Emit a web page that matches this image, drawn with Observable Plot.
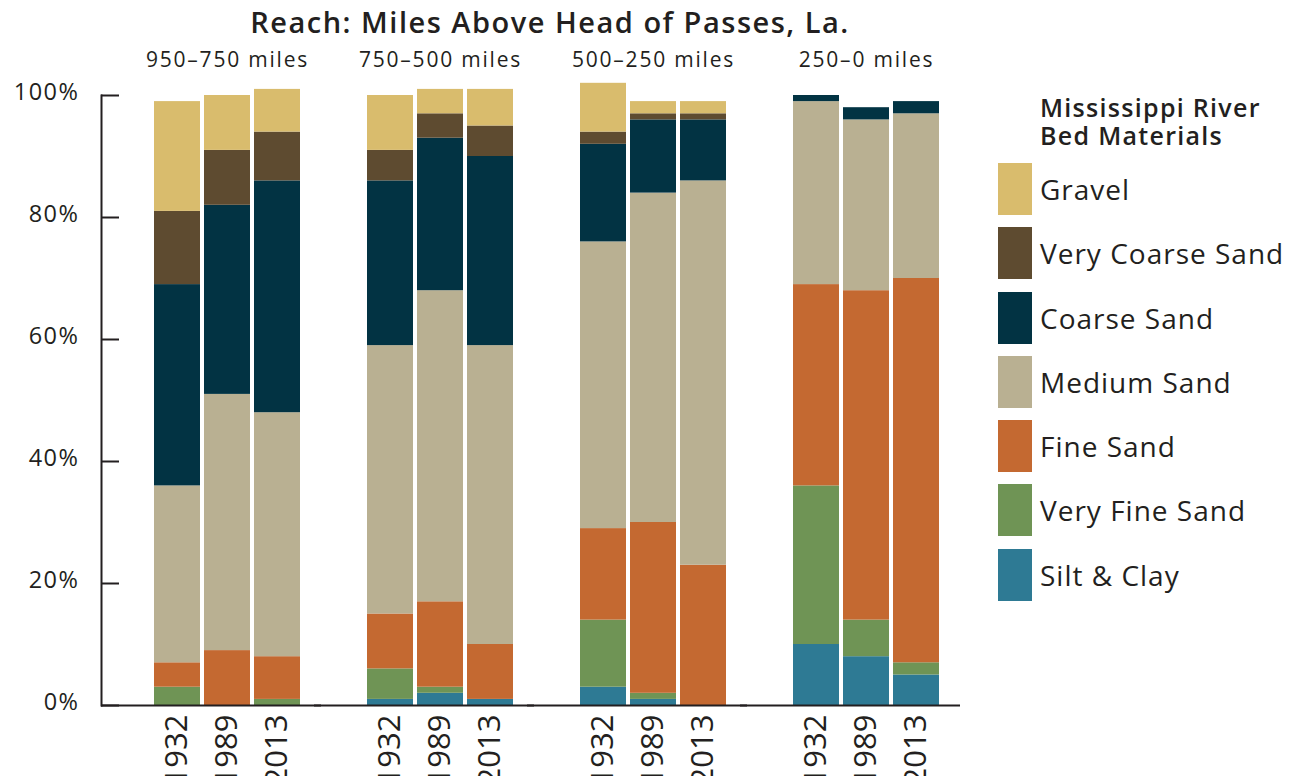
<!DOCTYPE html>
<html>
<head>
<meta charset="utf-8">
<script src="https://cdn.jsdelivr.net/npm/d3@7"></script>
<script src="https://cdn.jsdelivr.net/npm/@observablehq/plot@0.6"></script>
<style>
  html, body { margin: 0; padding: 0; background: #fff; }
  body { font-family: "Open Sans", "Noto Sans", sans-serif; color: #231f20; }
  #wrap { position: relative; width: 1304px; height: 776px; overflow: hidden; }
  #title { position: absolute; left: 0; top: 4px; width: 1100px; text-align: center; font-size: 29px; font-weight: 600; line-height: 36px; letter-spacing: 1.5px; }
  #chart { position: absolute; left: 0; top: 40px; }
  #legend { position: absolute; left: 998px; top: 93px; }
  #legend .lt { margin-left: 42px; font-size: 25px; font-weight: 600; line-height: 28px; margin-bottom: 7.85px; letter-spacing: 1.3px; white-space: nowrap; }
  #legend .row { display: flex; align-items: center; height: 64.3px; }
  #legend .sw { width: 34px; height: 52px; margin-right: 8px; flex: none; }
  #legend .lb { font-size: 28px; letter-spacing: 1px; white-space: nowrap; }
  #chart svg g[aria-label="text"] text { letter-spacing: 1.8px; }
  #chart svg g[aria-label="y-axis tick label"] text { letter-spacing: 1.5px; }
</style>
</head>
<body>
<div id="wrap">
  <div id="title">Reach: Miles Above Head of Passes, La.</div>
  <div id="chart"></div>
  <div id="legend"></div>
</div>
<script>
// Reaches (groups) and survey years
const reaches = ["950–750 miles", "750–500 miles", "500–250 miles", "250–0 miles"];
const years = ["1932", "1989", "2013"];
// Materials, stacked bottom to top
const materials = ["Silt & Clay", "Very Fine Sand", "Fine Sand", "Medium Sand", "Coarse Sand", "Very Coarse Sand", "Gravel"];
const materialColors = ["#2e7a94", "#6f9455", "#c46931", "#b9b092", "#023343", "#5e4b30", "#d9bc6d"];
// Percent values, order: reach1(1932,1989,2013), reach2(...), reach3(...), reach4(...)
const siltClay     = [0, 0, 0,   1, 2, 1,   3, 1, 0,   10, 8, 5];
const veryFineSand = [3, 0, 1,   5, 1, 0,   11, 1, 0,  26, 6, 2];
const fineSand     = [4, 9, 7,   9, 14, 9,  15, 28, 23, 33, 54, 63];
const mediumSand   = [29, 42, 40, 44, 51, 49, 47, 54, 63, 30, 28, 27];
const coarseSand   = [33, 31, 38, 27, 25, 31, 16, 12, 10, 1, 2, 2];
const veryCoarse   = [12, 9, 8,  5, 4, 5,   2, 1, 1,   0, 0, 0];
const gravel       = [18, 9, 7,  9, 4, 6,   8, 2, 2,   0, 0, 0];
const yTicks = [0, 20, 40, 60, 80, 100];

const series = [siltClay, veryFineSand, fineSand, mediumSand, coarseSand, veryCoarse, gravel];
const rows = [];
reaches.forEach((r, ri) => years.forEach((yr, yi) => {
  materials.forEach((m, mi) => {
    rows.push({reach: r, year: yr, material: m, value: series[mi][ri * 3 + yi]});
  });
}));

const ink = "#231f20";
const chart = Plot.plot({
  width: 980,
  height: 736,
  marginLeft: 101,
  marginRight: 27,
  marginTop: 55,
  marginBottom: 71,
  style: {fontFamily: "'Open Sans', 'Noto Sans', sans-serif", color: ink, background: "transparent"},
  fx: {domain: reaches, paddingInner: 0, paddingOuter: 0, axis: null},
  x: {domain: years, paddingInner: 0.09, paddingOuter: 0.653, align: 0.788, axis: null},
  y: {domain: [0, 100], axis: null},
  color: {domain: materials, range: materialColors},
  marks: [
    Plot.barY(rows, {fx: "reach", x: "year", y: "value", fill: "material"}),
    Plot.ruleY([0], {stroke: ink, strokeWidth: 2, insetRight: -7}),
    Plot.frame({anchor: "left", facetAnchor: "left", stroke: ink, strokeWidth: 2}),
    Plot.axisY({ticks: yTicks, tickSize: -18, strokeWidth: 2, stroke: ink, tickFormat: () => "", label: null, facetAnchor: "left"}),
    Plot.axisY({ticks: yTicks, tickSize: 0, tickPadding: 22, tickFormat: d => d + "%", fontSize: 23.5, dy: -3, fill: ink, label: null, facetAnchor: "left"}),
    Plot.axisX({tickSize: 0, tickPadding: 9, tickRotate: -90, fontSize: 31, fill: ink, label: null}),
    Plot.text(reaches, {fx: d => d, x: () => years[1], text: d => d, frameAnchor: "top", lineAnchor: "middle", dy: -35, fontSize: 21, fill: ink})
  ]
});
document.getElementById("chart").appendChild(chart);

// Legend (top to bottom: Gravel ... Silt & Clay)
const legend = document.getElementById("legend");
legend.innerHTML = '<div class="lt">Mississippi River<br>Bed Materials</div>' +
  materials.map((m, i) => ({m, c: materialColors[i]})).reverse()
    .map(d => `<div class="row"><div class="sw" style="background:${d.c}"></div><div class="lb">${d.m.replace("&", "&amp;")}</div></div>`).join("");
</script>
</body>
</html>
